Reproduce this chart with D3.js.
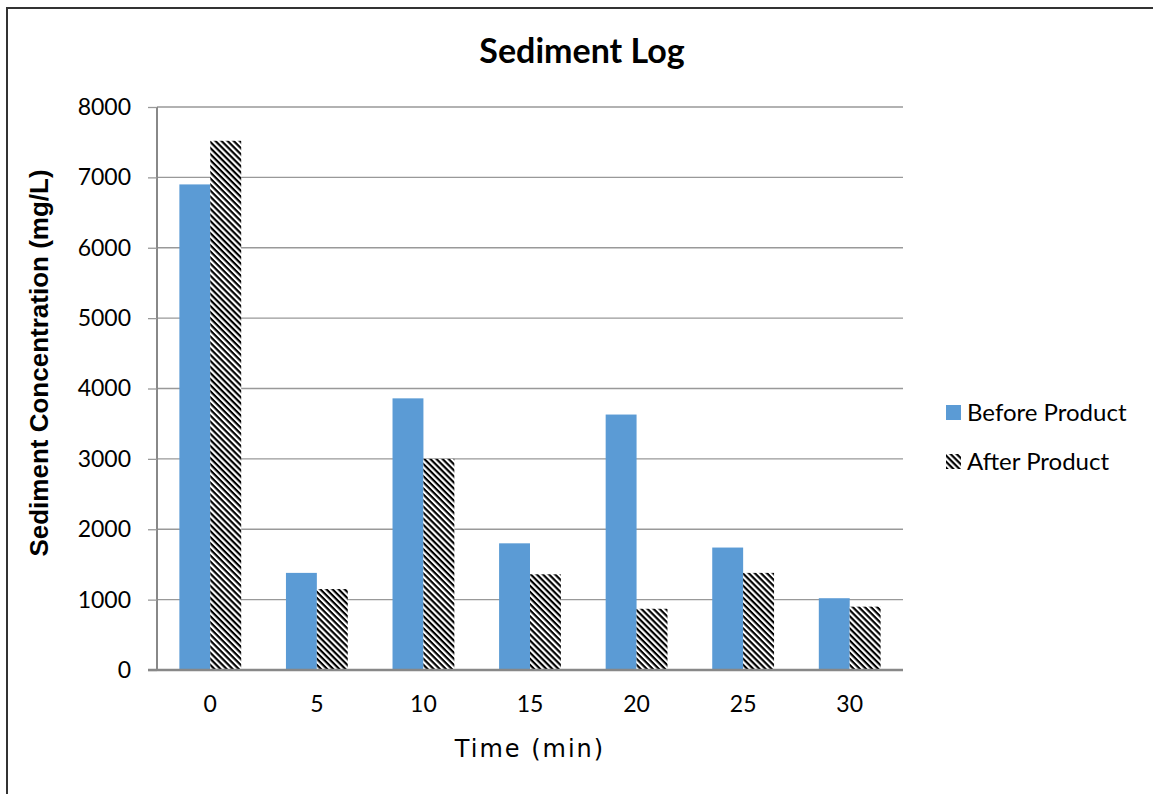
<!DOCTYPE html>
<html><head><meta charset="utf-8">
<script src="https://cdn.jsdelivr.net/npm/d3@7"></script>
<style>body{margin:0;background:#fff}svg{display:block}</style>
</head><body>
<script>
const categories = ["0","5","10","15","20","25","30"];
const seriesNames = ["Before Product","After Product"];
const beforeValues = [6900,1380,3860,1800,3630,1740,1020];
const afterValues = [7520,1150,3000,1360,870,1380,900];
const yTicks = [0,1000,2000,3000,4000,5000,6000,7000,8000];

(function(){
const W=1153,H=794;
const svg=d3.select("body").append("svg").attr("width",W).attr("height",H);
const defs=svg.append("defs");
const pat=defs.append("pattern").attr("id","hatch").attr("patternUnits","userSpaceOnUse")
  .attr("width",4.3).attr("height",4.3).attr("patternTransform","rotate(45)");
pat.append("rect").attr("width",4.3).attr("height",4.3).attr("fill","#fff");
pat.append("rect").attr("width",4.3).attr("height",2.15).attr("fill","#000");

svg.append("rect").attr("width",W).attr("height",H).attr("fill","#fff");
// frame
svg.append("path").attr("d","M7,794 L7,8 L1153,8").attr("fill","none").attr("stroke","#333").attr("stroke-width",2);

const pL=157,pR=903,pT=107,pB=670;
const x=d3.scaleBand().domain(categories).range([pL,pR]).paddingInner(0.42).paddingOuter(0.21);
const xs=d3.scaleBand().domain(seriesNames).range([0,x.bandwidth()]);
const y=d3.scaleLinear().domain([0,8000]).range([pB,pT]);

// grid
svg.append("g").selectAll("line").data(yTicks.filter(d=>d>0)).join("line")
  .attr("x1",pL).attr("x2",pR).attr("y1",d=>y(d)).attr("y2",d=>y(d))
  .attr("stroke","#999").attr("stroke-width",1.3);

const data=categories.map((c,i)=>({c,vals:[beforeValues[i],afterValues[i]]}));
const g=svg.append("g");
g.selectAll("g").data(data).join("g").attr("transform",d=>`translate(${x(d.c)},0)`)
 .selectAll("rect").data(d=>d.vals.map((v,j)=>({v,s:seriesNames[j]}))).join("rect")
 .attr("x",d=>xs(d.s)).attr("width",xs.bandwidth())
 .attr("y",d=>y(d.v)).attr("height",d=>pB-y(d.v))
 .attr("fill",d=>d.s===seriesNames[0]?"#5b9bd5":"url(#hatch)");

// y axis
const ya=d3.axisLeft(y).tickValues(yTicks).tickSize(9).tickFormat(d3.format("d"));
const yg=svg.append("g").attr("transform",`translate(${pL},0)`).call(ya);
yg.select(".domain").attr("stroke","#888").attr("stroke-width",2).attr("d",`M0,${pT}V${pB}`);
yg.selectAll(".tick line").attr("stroke","#999").attr("stroke-width",1.3);
yg.selectAll(".tick text").attr("x",-26).attr("font-family","Lato, 'Open Sans', sans-serif").attr("font-size",23).attr("fill","#000");

// x axis
const xa=d3.axisBottom(x).tickSize(0);
const xg=svg.append("g").attr("transform",`translate(0,${pB})`).call(xa);
xg.select(".domain").attr("stroke","#888").attr("stroke-width",2.5).attr("d",`M${pL-9},0H${pR}`);
xg.selectAll(".tick text").attr("y",26).attr("dy","0.71em").attr("font-family","Lato, 'Open Sans', sans-serif").attr("font-size",23).attr("fill","#000");

// title
svg.append("text").attr("x",582).attr("y",63).attr("text-anchor","middle")
  .attr("font-family","Lato, 'Open Sans', sans-serif").attr("font-weight","bold").attr("font-size",34).text("Sediment Log");
// axis titles
svg.append("text").attr("transform","translate(48,363) rotate(-90)").attr("text-anchor","middle")
  .attr("font-family","'Liberation Sans', Arial, sans-serif").attr("font-weight","bold").attr("font-size",26).text("Sediment Concentration (mg/L)");
svg.append("text").attr("x",530).attr("y",757).attr("text-anchor","middle")
  .attr("font-family","'DejaVu Sans', Verdana, sans-serif").attr("font-size",24).attr("letter-spacing",2).text("Time (min)");

// legend
const lg=svg.append("g").selectAll("g").data(seriesNames).join("g").attr("transform",(d,i)=>`translate(946,${405+i*49})`);
lg.append("rect").attr("width",15).attr("height",15).attr("fill",(d,i)=>i===0?"#5b9bd5":"url(#hatch)");
lg.append("text").attr("x",21).attr("y",16).attr("font-family","Lato, 'Open Sans', sans-serif").attr("font-size",24).attr("fill","#000").text(d=>d);
})();
</script>
</body></html>
